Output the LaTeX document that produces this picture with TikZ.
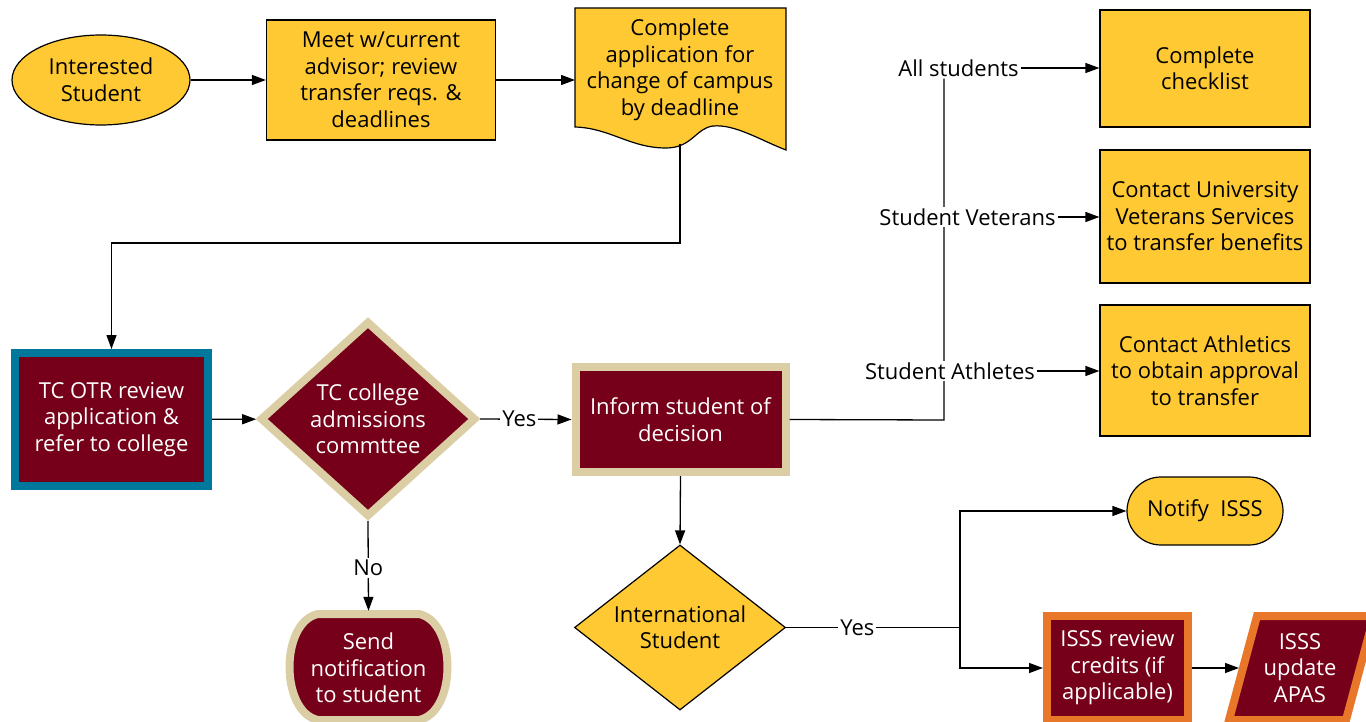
\documentclass[tikz,border=0pt]{standalone}
\usepackage{fontspec}
\setmainfont{Open Sans}
\usetikzlibrary{shapes.geometric,arrows.meta}
\definecolor{cgold}{HTML}{FFC933}
\definecolor{cgarnet}{HTML}{760019}
\definecolor{csand}{HTML}{DBCEA5}
\definecolor{cblue}{HTML}{00789C}
\definecolor{corange}{HTML}{E8772A}
\begin{document}
\begin{tikzpicture}[x=1pt,y=-1pt,
  every node/.style={font=\fontsize{22}{26.5}\selectfont},
  arr/.style={-{Triangle[length=14pt,width=10pt]}, line width=1.3pt},
  ln/.style={line width=1.3pt},
  ybox/.style={rectangle, draw=black, line width=1.2pt, fill=cgold, align=center, inner sep=0pt},
  mbox/.style={rectangle, fill=cgarnet, text=white, line width=8pt, align=center, inner sep=0pt},
  lbl/.style={fill=white, inner sep=2pt}
]
\useasboundingbox (0,0) rectangle (1366,722);

% top row
\node[ybox, ellipse, minimum width=178pt, minimum height=90pt] (st) at (101,80) {Interested\\Student};
\node[ybox, minimum width=229pt, minimum height=120pt] (meet) at (381,80) {Meet w/current\\advisor; review\\transfer reqs. \&\\deadlines};
\path[draw=black, line width=1.2pt, fill=cgold]
  (575,8) -- (786,8) -- (786,150)
  .. controls (760,140) and (735,124) .. (713,126)
  .. controls (696,128) and (692,148) .. (666,148)
  .. controls (630,148) and (610,128) .. (575,127) -- cycle;
\node[align=center] (app) at (680,70) {Complete\\application for\\change of campus\\by deadline};
\coordinate (appW) at (575,80);
\coordinate (appS) at (680,144);
\coordinate (bend) at (680,243);

% middle row
\node[mbox, draw=cblue, minimum width=193pt, minimum height=133pt] (otr) at (111.5,419.5) {TC OTR review\\application \&\\refer to college};
\node[diamond, draw=csand, fill=cgarnet, line width=8pt, minimum width=216pt, minimum height=196pt, inner sep=0pt] (d1) at (368,419) {};
\node[text=white, align=center] (d1t) at (368,419) {TC college\\admissions\\commttee};
\node[mbox, draw=csand, minimum width=210pt, minimum height=105pt] (inf) at (680.5,419.5) {Inform student of\\decision};
\path[draw=csand, fill=cgarnet, line width=8pt]
  (318,614) -- (419,614) .. controls (457,622) and (457,712) .. (419,720)
  -- (318,720) .. controls (280,712) and (280,622) .. (318,614) -- cycle;
\node[text=white, align=center, minimum height=114pt, inner sep=0pt] (send) at (368.5,668) {Send\\notification\\to student};

% right column
\node[ybox, minimum width=210pt, minimum height=117pt] (chk) at (1205,68.5) {Complete\\checklist};
\node[ybox, minimum width=210pt, minimum height=133pt] (vet) at (1205,216.5) {Contact University\\Veterans Services\\to transfer benefits};
\node[ybox, minimum width=210pt, minimum height=131pt] (ath) at (1205,370.5) {Contact Athletics\\to obtain approval\\to transfer};

% bottom
\node[diamond, draw=black, line width=1.2pt, fill=cgold, minimum width=211pt, minimum height=165pt, inner sep=0pt] (d2) at (680,627.5) {};
\node[align=center] (d2t) at (680,627) {International\\Student};
\node[ybox, rounded corners=34pt, minimum width=156pt, minimum height=68pt] (ntf) at (1205,511) {Notify\ \ ISSS};
\node[mbox, draw=corange, minimum width=141pt, minimum height=104pt] (rev) at (1117.5,668) {ISSS review\\credits (if\\applicable)};
\path[draw=corange, fill=cgarnet, line width=8pt] (1257,616) -- (1374,616) -- (1346,720) -- (1229,720) -- cycle;
\node[text=white, align=center] (apas) at (1300,668) {ISSS\\update\\APAS};
\coordinate (apasW) at (1239,668);

% connectors
\draw[arr] (st) -- (meet);
\draw[arr] (meet.east) -- (appW);
\draw[arr] (appS) -- (bend) -| (otr.north);
\draw[arr] (otr) -- (d1);
\draw[arr] (d1.east) -- node[lbl, pos=0.43] {Yes} (inf.west);
\draw[arr] (d1.south) -- node[lbl, pos=0.52] {No} (send.north);
\draw[arr] (inf.south) -- (d2.north);

\coordinate (jn) at (944,420);
\node[lbl] (all) at (958.5,68) {All students};
\draw[ln] (inf.east) -- (jn) -- (jn |- all.south);
\node[lbl] (vlb) at (967.5,217) {Student Veterans};
\node[lbl] (alb) at (950,371) {Student Athletes};
\draw[arr] (all.east) -- (all.east -| chk.west);
\draw[arr] (vlb.east) -- (vlb.east -| vet.west);
\draw[arr] (alb.east) -- (alb.east -| ath.west);

\coordinate (jn2) at (960,627.5);
\draw[ln] (d2.east) -- node[lbl, pos=0.41] {Yes} (jn2);
\draw[arr] (jn2) |- (ntf.west);
\draw[arr] (jn2) |- (rev.west);
\draw[arr] (rev.east) -- (apasW);
\end{tikzpicture}
\end{document}
